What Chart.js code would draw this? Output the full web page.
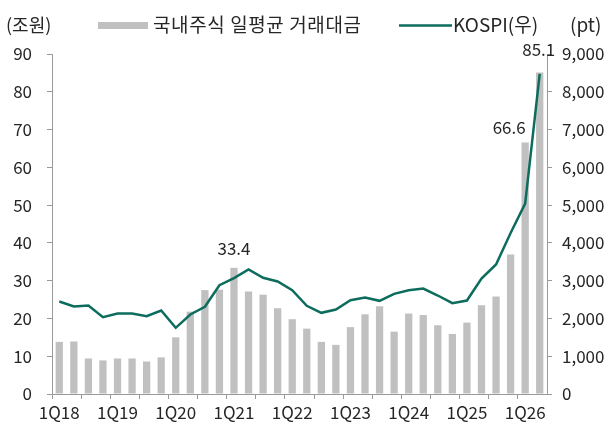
<!DOCTYPE html>
<html>
<head>
<meta charset="utf-8">
<script src="https://cdn.jsdelivr.net/npm/chart.js@4.4.1/dist/chart.umd.min.js"></script>
<style>
  html, body { margin: 0; padding: 0; background: #ffffff; }
  #wrap { width: 611px; height: 425px; }
</style>
</head>
<body>
<div id="wrap"><canvas id="c" width="611" height="425"></canvas></div>
<script>
const categories = [
  '1Q18','2Q18','3Q18','4Q18','1Q19','2Q19','3Q19','4Q19',
  '1Q20','2Q20','3Q20','4Q20','1Q21','2Q21','3Q21','4Q21',
  '1Q22','2Q22','3Q22','4Q22','1Q23','2Q23','3Q23','4Q23',
  '1Q24','2Q24','3Q24','4Q24','1Q25','2Q25','3Q25','4Q25',
  '1Q26','2Q26'
];
const tradingValue = [
  13.8, 13.9, 9.4, 8.9, 9.4, 9.4, 8.6, 9.7,
  15.0, 21.8, 27.5, 27.6, 33.4, 27.1, 26.3, 22.7,
  19.8, 17.3, 13.8, 13.0, 17.7, 21.1, 23.2, 16.5,
  21.3, 20.9, 18.2, 15.9, 18.9, 23.5, 25.8, 36.9,
  66.6, 85.1
];
const kospi = [
  2448, 2316, 2343, 2033, 2131, 2131, 2060, 2210,
  1752, 2104, 2308, 2880, 3066, 3295, 3075, 2978,
  2748, 2334, 2149, 2237, 2483, 2554, 2466, 2652,
  2745, 2792, 2607, 2404, 2475, 3057, 3428, 4260,
  5040, 8475
];
const labeledIdx = [12, 32, 33];
const seriesNames = ['국내주식 일평균 거래대금', 'KOSPI(우)'];
const leftUnit = '(조원)';
const rightUnit = '(pt)';

const FONT = '"Noto Sans CJK KR", "Noto Sans", sans-serif';
const TXT = '#262626';
const AX = '#9a9a9a';
const BAR = '#c0c0c0';
const LINE = '#0c6c5d';

const labelOffsets = { 12: [0, 19], 32: [-16, 15], 33: [-1, 23] };

const overlay = {
  id: 'overlay',
  afterDraw(chart) {
    const ctx = chart.ctx;
    ctx.save();
    ctx.fillStyle = TXT;
    ctx.textBaseline = 'middle';
    ctx.textAlign = 'left';
    // units
    ctx.font = '18px ' + FONT;
    ctx.fillText(leftUnit, 6, 25);
    ctx.font = '19px ' + FONT;
    ctx.fillText(rightUnit, 570, 25);
    // legend
    ctx.fillStyle = BAR;
    ctx.fillRect(98, 22, 50, 7);
    ctx.fillStyle = TXT;
    try { ctx.letterSpacing = '0.6px'; } catch (e) {}
    ctx.fillText(seriesNames[0], 153, 25);
    try { ctx.letterSpacing = '0px'; } catch (e) {}
    ctx.strokeStyle = LINE;
    ctx.lineWidth = 2.5;
    ctx.beginPath();
    ctx.moveTo(399, 25.5);
    ctx.lineTo(452, 25.5);
    ctx.stroke();
    ctx.fillText(seriesNames[1], 453, 25);
    // data labels
    ctx.font = '17px ' + FONT;
    const meta = chart.getDatasetMeta(0);
    ctx.textAlign = 'center';
    labeledIdx.forEach(i => {
      const el = meta.data[i];
      const off = labelOffsets[i] || [0, 18];
      ctx.fillText(tradingValue[i].toFixed(1), el.x + off[0], el.y - off[1]);
    });
    ctx.restore();
  }
};

new Chart(document.getElementById('c'), {
  type: 'bar',
  data: {
    labels: categories,
    datasets: [
      {
        type: 'bar',
        label: seriesNames[0],
        data: tradingValue,
        backgroundColor: BAR,
        borderWidth: 0,
        barPercentage: 0.5,
        categoryPercentage: 1.0,
        yAxisID: 'y',
        order: 1
      },
      {
        type: 'line',
        label: seriesNames[1],
        data: kospi,
        borderColor: LINE,
        borderWidth: 2.5,
        pointRadius: 0,
        tension: 0,
        fill: false,
        yAxisID: 'y1',
        order: 0
      }
    ]
  },
  options: {
    responsive: false,
    devicePixelRatio: 1,
    animation: false,
    layout: { padding: { top: 54, left: 0, right: 0, bottom: 0 } },
    plugins: { legend: { display: false }, tooltip: { enabled: false } },
    scales: {
      x: {
        offset: true,
        border: { display: true, color: AX, width: 1 },
        grid: {
          offset: true,
          drawOnChartArea: false,
          drawTicks: true,
          tickLength: 5,
          color: (c) => (c.index % 2 === 0 ? AX : 'rgba(0,0,0,0)')
        },
        ticks: {
          autoSkip: false,
          maxRotation: 0,
          minRotation: 0,
          padding: 3,
          color: TXT,
          font: { family: FONT, size: 17 },
          callback: (v, i) => (i % 4 === 0 ? categories[i] : '')
        },
        afterFit: (s) => { s.height = 31; }
      },
      y: {
        position: 'left',
        min: 0,
        max: 90,
        border: { display: true, color: AX, width: 1 },
        grid: { drawOnChartArea: false, tickLength: 5, color: AX },
        ticks: {
          stepSize: 10,
          padding: 15,
          color: TXT,
          font: { family: FONT, size: 17 }
        },
        afterFit: (s) => { s.width = 52; }
      },
      y1: {
        position: 'right',
        min: 0,
        max: 9000,
        border: { display: true, color: AX, width: 1 },
        grid: { drawOnChartArea: false, tickLength: 5, color: AX },
        ticks: {
          stepSize: 1000,
          padding: 10,
          color: TXT,
          font: { family: FONT, size: 17 },
          callback: (v) => v.toLocaleString('en-US')
        },
        afterFit: (s) => { s.width = 64; }
      }
    }
  },
  plugins: [overlay]
});
</script>
</body>
</html>
